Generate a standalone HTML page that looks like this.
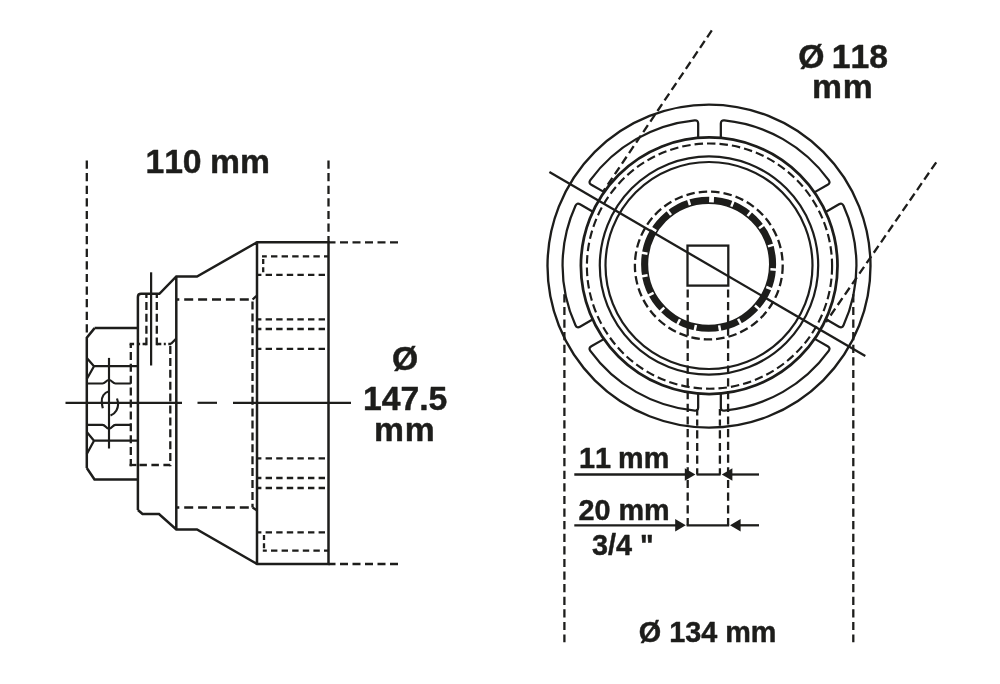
<!DOCTYPE html>
<html lang="en"><head><meta charset="utf-8"><title>Socket dimensions</title>
<style>
html,body{margin:0;padding:0;background:#fff;}
body{width:1000px;height:684px;overflow:hidden;}
svg{display:block;will-change:transform;}
svg text{font-family:"Liberation Sans",sans-serif;font-weight:bold;fill:#1d1d1b;stroke:#1d1d1b;stroke-width:0.45px;stroke-linejoin:round;font-kerning:none;}
</style></head><body>
<svg width="1000" height="684" viewBox="0 0 1000 684" stroke="#1d1d1b" fill="none">
<rect x="0" y="0" width="1000" height="684" fill="#fff" stroke="none"/>
<line x1="86.80" y1="160.50" x2="86.80" y2="337.00" stroke-width="2.3" stroke-dasharray="8.2 4.4" stroke-linecap="butt"/>
<line x1="328.50" y1="160.50" x2="328.50" y2="242.30" stroke-width="2.3" stroke-dasharray="8.2 4.4" stroke-linecap="butt"/>
<line x1="328.50" y1="242.30" x2="398.60" y2="242.30" stroke-width="2.3" stroke-dasharray="8 4.5" stroke-dashoffset="1" stroke-linecap="butt"/>
<line x1="328.50" y1="564.00" x2="398.60" y2="564.00" stroke-width="2.3" stroke-dasharray="8 4.5" stroke-dashoffset="1" stroke-linecap="butt"/>
<path d="M94.6,328.1 L137.9,328.1 M86.8,468 L86.8,337.6 L94.6,328.1 M86.8,468 L94.5,479.5 L137.9,479.5 M137.9,510 L137.9,297 Q137.9,293.8 141.1,293.8 L159.4,293.8 L176.3,276.5 L197,276.5 L257.0,242.3 L328.5,242.3 L328.5,564.0 L257.0,564.0 L197,529.5 L176.3,529.5 L159,514 L142.5,514 L137.9,510 M176.3,276.5 L176.3,529.5 M257.0,242.3 L257.0,564.0" stroke-width="2.5" fill="none" stroke-linejoin="miter" stroke-linecap="butt"/>
<path d="M86.8,357.9 L94,366.2 L86.8,379 M94,366.2 L137.9,366.2 M86.8,432 L94,440.7 L86.8,454 M94,440.7 L137.9,440.7" stroke-width="2.25" fill="none" stroke-linejoin="round" stroke-linecap="butt"/>
<path d="M86.8,383.5 L102.5,383.5 C105.5,383.5 106,380 109,380 C112,380 112.5,383.5 115.5,383.5 L130.8,383.5 M86.8,424.8 L102.5,424.8 C105.5,424.8 106,428.5 109,428.5 C112,428.5 112.5,424.8 115.5,424.8 L130.8,424.8" stroke-width="2.15" fill="none" stroke-linejoin="round" stroke-linecap="butt"/>
<line x1="109.00" y1="357.90" x2="109.00" y2="448.50" stroke-width="2.15" stroke-linecap="butt"/>
<line x1="151.10" y1="272.30" x2="151.10" y2="365.50" stroke-width="2.25" stroke-linecap="butt"/>
<path d="M109,391.2 C104,392.5 101.3,397 101.8,402 C102,404.5 102.3,406.5 102.8,408.2" stroke-width="2.15" fill="none" stroke-linejoin="round" stroke-linecap="butt"/>
<path d="M117,398.5 C118.6,403 118.4,407 116.4,410.5 C115,413 113,414.6 110.5,415.6" stroke-width="2.15" fill="none" stroke-linejoin="round" stroke-linecap="butt"/>
<line x1="65.50" y1="402.80" x2="182.00" y2="402.80" stroke-width="2.15" stroke-linecap="butt"/>
<line x1="197.50" y1="402.80" x2="217.00" y2="402.80" stroke-width="2.15" stroke-linecap="butt"/>
<line x1="233.00" y1="402.80" x2="351.00" y2="402.80" stroke-width="2.15" stroke-linecap="butt"/>
<line x1="146.40" y1="295.00" x2="146.40" y2="345.20" stroke-width="2.3" stroke-dasharray="8 3.9" stroke-dashoffset="5" stroke-linecap="butt"/>
<line x1="156.80" y1="295.00" x2="156.80" y2="345.20" stroke-width="2.3" stroke-dasharray="8 3.9" stroke-dashoffset="5" stroke-linecap="butt"/>
<line x1="129.60" y1="344.00" x2="146.40" y2="344.00" stroke-width="2.3" stroke-dasharray="4.5 3.5 2.5 2.5 4.5 0" stroke-linecap="butt"/>
<line x1="156.80" y1="344.00" x2="171.00" y2="344.00" stroke-width="2.3" stroke-dasharray="4.5 2.5 2 2.5 4.5 0" stroke-linecap="butt"/>
<line x1="130.80" y1="344.00" x2="130.80" y2="466.20" stroke-width="2.3" stroke-dasharray="8 3.9" stroke-dashoffset="4" stroke-linecap="butt"/>
<line x1="170.30" y1="344.00" x2="170.30" y2="466.20" stroke-width="2.3" stroke-dasharray="8 3.9" stroke-dashoffset="-2" stroke-linecap="butt"/>
<line x1="129.60" y1="465.00" x2="136.40" y2="465.00" stroke-width="2.3" stroke-linecap="butt"/>
<line x1="139.40" y1="465.00" x2="170.30" y2="465.00" stroke-width="2.3" stroke-dasharray="7.5 4.5" stroke-linecap="butt"/>
<path d="M170.8,344 L176.3,338.5" stroke-width="2.3" fill="none" stroke-linejoin="round" stroke-linecap="butt"/>
<line x1="176.30" y1="299.50" x2="253.60" y2="299.50" stroke-width="2.3" stroke-dasharray="9 4.9" stroke-dashoffset="6" stroke-linecap="butt"/>
<line x1="252.50" y1="299.50" x2="252.50" y2="507.50" stroke-width="2.3" stroke-dasharray="8 3.9" stroke-dashoffset="-2" stroke-linecap="butt"/>
<line x1="176.30" y1="507.50" x2="253.60" y2="507.50" stroke-width="2.3" stroke-dasharray="9 4.9" stroke-dashoffset="6" stroke-linecap="butt"/>
<path d="M252.6,299.5 L257.0,295.5" stroke-width="2.3" fill="none" stroke-linejoin="round" stroke-linecap="butt"/>
<path d="M252.6,507.5 L257.0,510.5" stroke-width="2.3" fill="none" stroke-linejoin="round" stroke-linecap="butt"/>
<line x1="257.00" y1="319.30" x2="328.50" y2="319.30" stroke-width="2.3" stroke-dasharray="6.4 4.2" stroke-dashoffset="2" stroke-linecap="butt"/>
<line x1="257.00" y1="329.00" x2="328.50" y2="329.00" stroke-width="2.3" stroke-dasharray="6.4 4.2" stroke-dashoffset="2" stroke-linecap="butt"/>
<line x1="257.00" y1="348.80" x2="328.50" y2="348.80" stroke-width="2.3" stroke-dasharray="6.4 4.2" stroke-dashoffset="2" stroke-linecap="butt"/>
<line x1="257.00" y1="458.40" x2="328.50" y2="458.40" stroke-width="2.3" stroke-dasharray="6.4 4.2" stroke-dashoffset="2" stroke-linecap="butt"/>
<line x1="257.00" y1="478.00" x2="328.50" y2="478.00" stroke-width="2.3" stroke-dasharray="6.4 4.2" stroke-dashoffset="2" stroke-linecap="butt"/>
<line x1="257.00" y1="488.00" x2="328.50" y2="488.00" stroke-width="2.3" stroke-dasharray="6.4 4.2" stroke-dashoffset="2" stroke-linecap="butt"/>
<line x1="262.00" y1="256.40" x2="328.50" y2="256.40" stroke-width="2.3" stroke-dasharray="6.4 4.2" stroke-dashoffset="1.6" stroke-linecap="butt"/>
<line x1="263.20" y1="256.40" x2="263.20" y2="274.80" stroke-width="2.3" stroke-dasharray="5 3.4" stroke-dashoffset="-2.5" stroke-linecap="butt"/>
<line x1="257.00" y1="274.80" x2="328.50" y2="274.80" stroke-width="2.3" stroke-dasharray="6.4 4.2" stroke-dashoffset="2" stroke-linecap="butt"/>
<line x1="257.00" y1="532.40" x2="328.50" y2="532.40" stroke-width="2.3" stroke-dasharray="6.4 4.2" stroke-dashoffset="2" stroke-linecap="butt"/>
<line x1="264.00" y1="532.40" x2="264.00" y2="551.80" stroke-width="2.3" stroke-dasharray="5 3.4" stroke-dashoffset="-2.5" stroke-linecap="butt"/>
<line x1="262.80" y1="550.60" x2="328.50" y2="550.60" stroke-width="2.3" stroke-dasharray="6.4 4.2" stroke-dashoffset="2.4" stroke-linecap="butt"/>
<circle cx="709.0" cy="266.1" r="161.5" stroke-width="2.35" fill="none"/>
<circle cx="709.2" cy="265.8" r="128.29999999999998" stroke-width="2.75" fill="none"/>
<circle cx="709.5" cy="266.1" r="122.6" stroke-width="2.15" stroke-dasharray="8.5 4" fill="none"/>
<circle cx="709.0" cy="265.5" r="109.2" stroke-width="2.2" fill="none"/>
<circle cx="709.0" cy="265.5" r="103.5" stroke-width="2.2" fill="none"/>
<circle cx="708.8" cy="265.5" r="73.9" stroke-width="2.3" stroke-dasharray="8.5 4" fill="none"/>
<circle cx="708.6" cy="264.3" r="63.95" stroke-width="7.100000000000001" fill="none"/>
<line x1="711.41" y1="202.36" x2="711.73" y2="195.37" stroke="#fff" stroke-width="4.8"/>
<line x1="731.32" y1="206.61" x2="733.89" y2="200.10" stroke="#fff" stroke-width="2.5"/>
<line x1="747.53" y1="216.05" x2="751.93" y2="210.60" stroke="#fff" stroke-width="2.5"/>
<line x1="759.01" y1="228.21" x2="764.70" y2="224.13" stroke="#fff" stroke-width="2.5"/>
<line x1="767.95" y1="246.38" x2="774.66" y2="244.36" stroke="#fff" stroke-width="2.5"/>
<line x1="770.40" y1="269.27" x2="777.38" y2="269.83" stroke="#fff" stroke-width="2.5"/>
<line x1="766.29" y1="287.02" x2="772.80" y2="289.59" stroke="#fff" stroke-width="2.5"/>
<line x1="754.96" y1="305.46" x2="760.20" y2="310.11" stroke="#fff" stroke-width="2.5"/>
<line x1="738.09" y1="318.84" x2="741.42" y2="325.00" stroke="#fff" stroke-width="2.5"/>
<line x1="719.15" y1="325.40" x2="720.34" y2="332.29" stroke="#fff" stroke-width="2.5"/>
<line x1="695.92" y1="324.99" x2="694.49" y2="331.84" stroke="#fff" stroke-width="2.5"/>
<line x1="679.97" y1="319.29" x2="676.74" y2="325.50" stroke="#fff" stroke-width="2.5"/>
<line x1="664.23" y1="307.60" x2="659.22" y2="312.49" stroke="#fff" stroke-width="2.5"/>
<line x1="653.56" y1="292.83" x2="647.34" y2="296.05" stroke="#fff" stroke-width="2.5"/>
<line x1="647.58" y1="275.28" x2="640.69" y2="276.52" stroke="#fff" stroke-width="2.5"/>
<line x1="647.50" y1="253.75" x2="640.61" y2="252.56" stroke="#fff" stroke-width="2.5"/>
<line x1="656.25" y1="231.08" x2="650.34" y2="227.33" stroke="#fff" stroke-width="2.5"/>
<line x1="671.03" y1="214.98" x2="666.79" y2="209.41" stroke="#fff" stroke-width="2.5"/>
<line x1="689.96" y1="205.17" x2="687.85" y2="198.49" stroke="#fff" stroke-width="2.5"/>
<g transform="translate(709.5,265.5) scale(1.003,0.996) translate(-709.0,-265.5)">
<path d="M813.94,191.86 L826.81,184.43 Q829.84,182.68 827.83,179.82 A146.5,146.5 0 0 0 723.79,119.75 Q720.30,119.44 720.30,122.94 L720.30,137.80" stroke-width="2.25" fill="none" stroke-linejoin="round" stroke-linecap="butt"/>
<path d="M697.70,137.80 L697.70,122.94 Q697.70,119.44 694.21,119.75 A146.5,146.5 0 0 0 590.17,179.82 Q588.16,182.68 591.19,184.43 L604.06,191.86" stroke-width="2.25" fill="none" stroke-linejoin="round" stroke-linecap="butt"/>
<path d="M592.76,211.44 L579.89,204.00 Q576.86,202.25 575.38,205.43 A146.5,146.5 0 0 0 575.38,325.57 Q576.86,328.75 579.89,327.00 L592.76,319.56" stroke-width="2.25" fill="none" stroke-linejoin="round" stroke-linecap="butt"/>
<path d="M604.06,339.14 L591.19,346.57 Q588.16,348.32 590.17,351.18 A146.5,146.5 0 0 0 694.21,411.25 Q697.70,411.56 697.70,408.06 L697.70,393.20" stroke-width="2.25" fill="none" stroke-linejoin="round" stroke-linecap="butt"/>
<path d="M720.30,393.20 L720.30,408.06 Q720.30,411.56 723.79,411.25 A146.5,146.5 0 0 0 827.83,351.18 Q829.84,348.32 826.81,346.57 L813.94,339.14" stroke-width="2.25" fill="none" stroke-linejoin="round" stroke-linecap="butt"/>
<path d="M825.24,319.56 L838.11,327.00 Q841.14,328.75 842.62,325.57 A146.5,146.5 0 0 0 842.62,205.43 Q841.14,202.25 838.11,204.00 L825.24,211.44" stroke-width="2.25" fill="none" stroke-linejoin="round" stroke-linecap="butt"/>
</g>
<rect x="687.5" y="245.6" width="40.8" height="40" fill="none" stroke-width="2.3"/>
<line x1="549.40" y1="172.00" x2="865.30" y2="356.00" stroke-width="2.3" stroke-linecap="butt"/>
<line x1="711.80" y1="30.40" x2="603.50" y2="191.00" stroke-width="2.3" stroke-dasharray="8.3 4.4" stroke-linecap="butt"/>
<line x1="936.20" y1="162.30" x2="826.00" y2="322.00" stroke-width="2.3" stroke-dasharray="8.3 4.4" stroke-linecap="butt"/>
<line x1="687.70" y1="286.60" x2="687.70" y2="525.30" stroke-width="2.3" stroke-dasharray="8.2 4.5" stroke-dashoffset="9.9" stroke-linecap="butt"/>
<line x1="728.10" y1="286.60" x2="728.10" y2="525.30" stroke-width="2.3" stroke-dasharray="8.2 4.5" stroke-dashoffset="9.9" stroke-linecap="butt"/>
<line x1="697.20" y1="409.00" x2="697.20" y2="415.50" stroke-width="2.3" stroke-linecap="butt"/>
<line x1="697.20" y1="419.50" x2="697.20" y2="474.50" stroke-width="2.3" stroke-dasharray="8.2 4.5" stroke-dashoffset="2" stroke-linecap="butt"/>
<line x1="719.90" y1="409.00" x2="719.90" y2="415.50" stroke-width="2.3" stroke-linecap="butt"/>
<line x1="719.90" y1="419.50" x2="719.90" y2="474.50" stroke-width="2.3" stroke-dasharray="8.2 4.5" stroke-dashoffset="2" stroke-linecap="butt"/>
<line x1="564.40" y1="291.00" x2="564.40" y2="642.30" stroke-width="2.3" stroke-dasharray="8.2 4.4" stroke-dashoffset="9.3" stroke-linecap="butt"/>
<line x1="853.30" y1="291.00" x2="853.30" y2="642.30" stroke-width="2.3" stroke-dasharray="8.2 4.4" stroke-dashoffset="9.3" stroke-linecap="butt"/>
<line x1="574.30" y1="474.50" x2="686.00" y2="474.50" stroke-width="2.3" stroke-linecap="butt"/>
<line x1="696.60" y1="474.50" x2="720.60" y2="474.50" stroke-width="2.3" stroke-linecap="butt"/>
<line x1="732.00" y1="474.50" x2="759.00" y2="474.50" stroke-width="2.3" stroke-linecap="butt"/>
<path d="M695.4,474.5 L684.8,468.3 L684.8,480.7 Z" fill="#1d1d1b" stroke="none"/>
<path d="M721.8,474.5 L732.4,468.3 L732.4,480.7 Z" fill="#1d1d1b" stroke="none"/>
<line x1="574.30" y1="525.30" x2="676.00" y2="525.30" stroke-width="2.3" stroke-linecap="butt"/>
<line x1="686.60" y1="525.30" x2="729.20" y2="525.30" stroke-width="2.3" stroke-linecap="butt"/>
<line x1="740.00" y1="525.30" x2="759.00" y2="525.30" stroke-width="2.3" stroke-linecap="butt"/>
<path d="M685.8,525.3 L675.1999999999999,519.0999999999999 L675.1999999999999,531.5 Z" fill="#1d1d1b" stroke="none"/>
<path d="M730,525.3 L740.6,519.0999999999999 L740.6,531.5 Z" fill="#1d1d1b" stroke="none"/>
<text x="145.4" y="172.6" font-size="33.7" text-anchor="start" word-spacing="-1">110 mm</text>
<text x="392" y="369.5" font-size="33.7" text-anchor="start">Ø</text>
<text x="363" y="410" font-size="33.7" text-anchor="start">147.5</text>
<text x="374" y="440.6" font-size="33.7" text-anchor="start" letter-spacing="0.8">mm</text>
<text x="798.2" y="67.7" font-size="33.7" text-anchor="start" word-spacing="-2">Ø 118</text>
<text x="812" y="98.3" font-size="33.7" text-anchor="start" letter-spacing="0.8">mm</text>
<text x="579" y="468" font-size="28.8" text-anchor="start" word-spacing="-1">11 mm</text>
<text x="578.4" y="520" font-size="28.8" text-anchor="start">20 mm</text>
<text x="592" y="555.3" font-size="28.8" text-anchor="start">3/4 "</text>
<text x="638.8" y="641.8" font-size="28.8" text-anchor="start">Ø 134 mm</text>
</svg>
</body></html>
